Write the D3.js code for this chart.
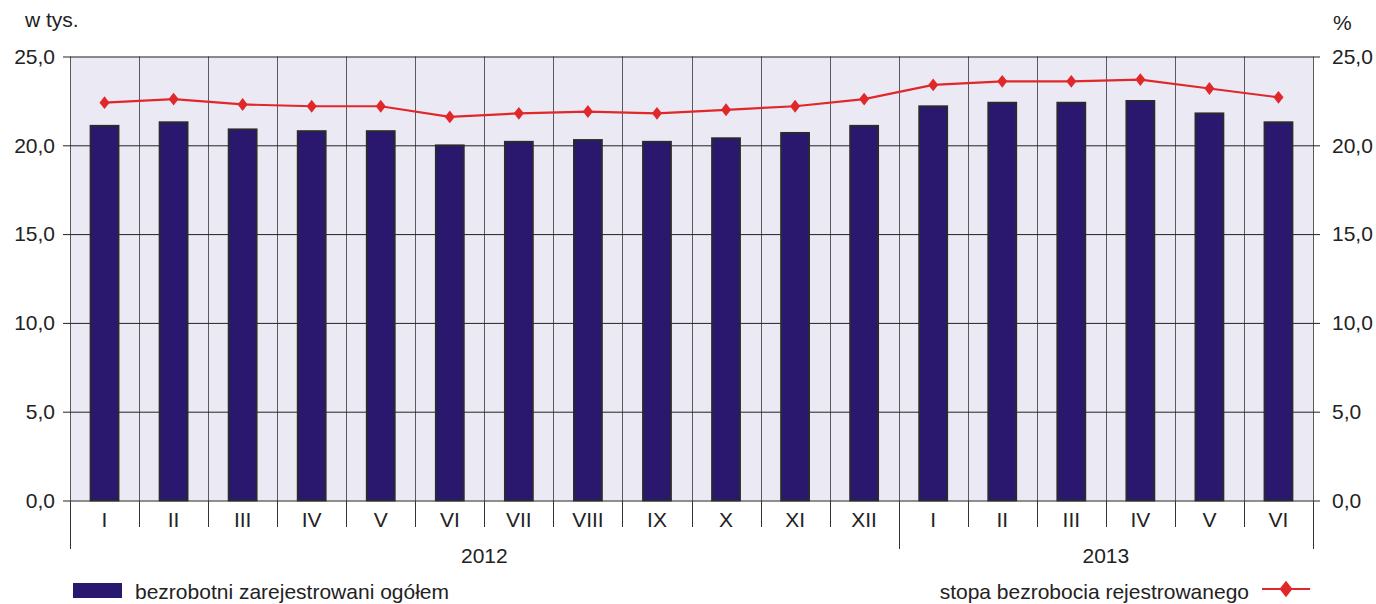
<!DOCTYPE html>
<html><head><meta charset="utf-8">
<script src="https://cdn.jsdelivr.net/npm/d3@7"></script>
<style>
html,body{margin:0;padding:0;background:#fff;}
svg{display:block;font-family:"Liberation Sans",Arial,sans-serif;}
</style></head>
<body><svg id="c" width="1376" height="604"></svg>
<script>
const months = ["I","II","III","IV","V","VI","VII","VIII","IX","X","XI","XII","I","II","III","IV","V","VI"];
const years = ["2012","2013"];
const yearCounts = [12, 6];
const unemployed = [21.1,21.3,20.9,20.8,20.8,20.0,20.2,20.3,20.2,20.4,20.7,21.1,22.2,22.4,22.4,22.5,21.8,21.3];
const rate = [22.4,22.6,22.3,22.2,22.2,21.6,21.8,21.9,21.8,22.0,22.2,22.6,23.4,23.6,23.6,23.7,23.2,22.7];
const yTicks = [0,5,10,15,20,25];
const barLabel = "bezrobotni zarejestrowani ogółem";
const lineLabel = "stopa bezrobocia rejestrowanego";

const FS = 21;
const svg = d3.select("#c");
const L = 70, R = 1313, T = 56.5, B = 500.5;
const idx = d3.range(months.length);
const x = d3.scaleBand().domain(idx).range([L, R]).paddingInner(0).paddingOuter(0);
const yL = d3.scaleLinear().domain([0,25]).range([B, T]);
const yR = d3.scaleLinear().domain([0,25]).range([B, T]);
const fmt = d => d3.format(".1f")(d).replace(".", ",");

// background
svg.append("rect").attr("x", L).attr("y", T).attr("width", R-L).attr("height", B-T).attr("fill", "#ebe9f4");

// vertical category lines
svg.append("g").selectAll("line").data(d3.range(months.length+1)).join("line")
  .attr("x1", i => Math.round(L + i*x.bandwidth()) + 0.5)
  .attr("x2", i => Math.round(L + i*x.bandwidth()) + 0.5)
  .attr("y1", T).attr("y2", B)
  .attr("stroke", "#5a5a5a").attr("stroke-width", 1);

// horizontal grid + left axis
const gL = svg.append("g").attr("transform", `translate(${L},0)`)
  .call(d3.axisLeft(yL).tickValues(yTicks).tickFormat(fmt).tickSize(7).tickPadding(8));
gL.select(".domain").remove();
gL.selectAll(".tick line").attr("stroke", "#222");
gL.selectAll(".tick").append("line").attr("x1", 0).attr("x2", R-L).attr("stroke", "#222");
gL.selectAll("text").attr("font-size", FS).attr("fill", "#222").attr("font-family", "Liberation Sans, Arial, sans-serif");

const gR = svg.append("g").attr("transform", `translate(${R},0)`)
  .call(d3.axisRight(yR).tickValues(yTicks).tickFormat(fmt).tickSize(7).tickPadding(12));
gR.select(".domain").remove();
gR.selectAll(".tick line").attr("stroke", "#222");
gR.selectAll("text").attr("font-size", FS).attr("fill", "#222").attr("font-family", "Liberation Sans, Arial, sans-serif");

// bars
const bw = 28;
svg.append("g").selectAll("rect").data(unemployed).join("rect")
  .attr("x", (d,i) => x(i) + x.bandwidth()/2 - bw/2)
  .attr("y", d => yL(d))
  .attr("width", bw)
  .attr("height", d => yL(0) - yL(d))
  .attr("fill", "#29186e").attr("stroke", "#2b2b2b").attr("stroke-width", 1.8);

// line
const line = d3.line().x((d,i) => x(i) + x.bandwidth()/2).y(d => yR(d));
svg.append("path").datum(rate).attr("d", line).attr("fill", "none")
  .attr("stroke", "#e0282a").attr("stroke-width", 2.2);
const diamond = d3.symbol().type(d3.symbolDiamond).size(48);
svg.append("g").selectAll("path").data(rate).join("path")
  .attr("transform", (d,i) => `translate(${x(i)+x.bandwidth()/2},${yR(d)}) scale(1.35,1)`)
  .attr("d", diamond).attr("fill", "#e0282a");

// x-axis below: month ticks
const xb = svg.append("g");
xb.selectAll("line").data(d3.range(months.length+1)).join("line")
  .attr("x1", i => Math.round(L + i*x.bandwidth()) + 0.5)
  .attr("x2", i => Math.round(L + i*x.bandwidth()) + 0.5)
  .attr("y1", B).attr("y2", i => (i === 0 || i === 12 || i === 18) ? 549 : 527)
  .attr("stroke", "#333").attr("stroke-width", 1);
xb.selectAll("text").data(months).join("text")
  .attr("x", (d,i) => x(i) + x.bandwidth()/2).attr("y", 527)
  .attr("text-anchor", "middle").attr("font-size", FS).attr("fill", "#222").text(d => d);

// year labels
let start = 0;
years.forEach((yv, k) => {
  const s = start, e = start + yearCounts[k];
  const cx = (L + s*x.bandwidth() + L + e*x.bandwidth())/2;
  svg.append("text").attr("x", cx).attr("y", 563).attr("text-anchor", "middle")
    .attr("font-size", FS).attr("fill", "#222").text(yv);
  start = e;
});

// axis unit labels
svg.append("text").attr("x", 25).attr("y", 27).attr("font-size", FS).attr("fill", "#222").text("w tys.");
svg.append("text").attr("x", 1333).attr("y", 30).attr("font-size", FS).attr("fill", "#222").text("%");

// legend
svg.append("rect").attr("x", 73).attr("y", 583).attr("width", 49).attr("height", 15).attr("fill", "#29186e");
svg.append("text").attr("x", 135).attr("y", 599).attr("font-size", FS).attr("fill", "#222").text(barLabel);
svg.append("text").attr("x", 1249).attr("y", 599).attr("text-anchor", "end").attr("font-size", FS).attr("fill", "#222").text(lineLabel);
svg.append("line").attr("x1", 1262).attr("x2", 1310).attr("y1", 589).attr("y2", 589).attr("stroke", "#e0282a").attr("stroke-width", 2.2);
svg.append("path").attr("transform", "translate(1286,589) scale(1.35,1)").attr("d", d3.symbol().type(d3.symbolDiamond).size(80)()).attr("fill", "#e0282a");
</script></body></html>
